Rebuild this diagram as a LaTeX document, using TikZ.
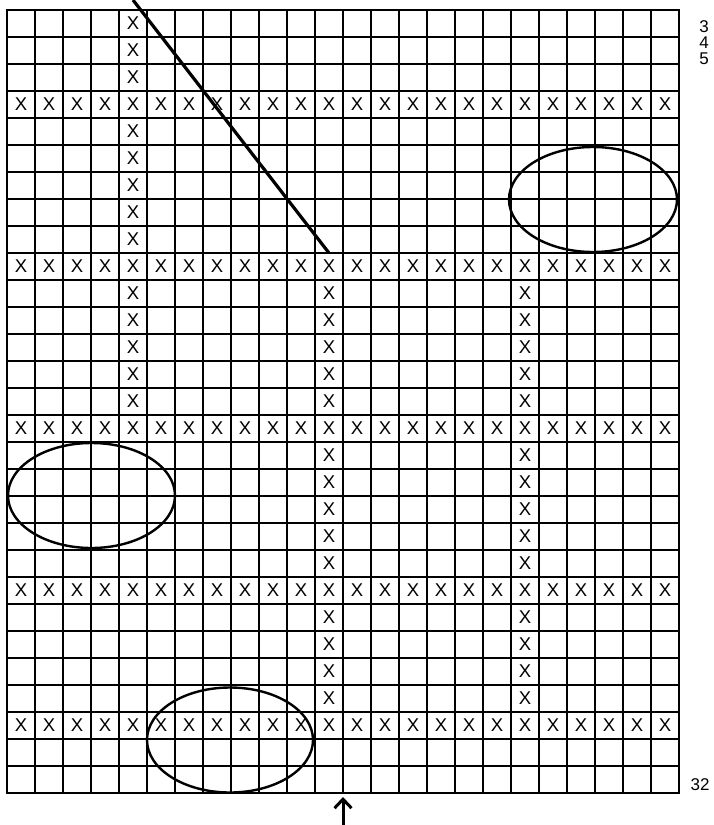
\documentclass[tikz,border=0pt]{standalone}
\usepackage{fontspec}
\setmainfont{Liberation Sans}
\usetikzlibrary{arrows.meta}
\begin{document}
\begin{tikzpicture}[x=1pt,y=-1pt,
  gridline/.style={line width=2.7pt,line cap=rect},
  xmark/.style={inner sep=0pt,font=\fontsize{18.5}{18.5}\selectfont},
  rowlabel/.style={inner sep=0pt,font=\fontsize{17}{17}\selectfont},
  loop/.style={line width=2.4pt},
  diag/.style={line width=3.2pt},
  pointer/.style={line width=3pt,-{Straight Barb[length=9pt,width=17pt,line width=3pt]}}]
\useasboundingbox (0,0) rectangle (714,825);
\fill[white] (0,0) rectangle (714,825);
% grid
\foreach \i in {0,...,24} \draw[gridline] ({7+28*\i},10) -- ({7+28*\i},793);
\foreach \j in {0,...,29} \draw[gridline] (7,{10+27*\j}) -- (679,{10+27*\j});
% full X rows
\foreach \r in {4,10,16,22,27}
  \foreach \c in {1,...,24}
    \node[xmark] (x-\c-\r) at ({7+28*(\c-0.5)},{10+27*(\r-0.5)}) {X};
% column 5
\foreach \r in {1,2,3,5,6,7,8,9,11,12,13,14,15}
  \node[xmark] (x-5-\r) at ({7+28*4.5},{10+27*(\r-0.5)}) {X};
% columns 12 and 19
\foreach \c in {12,19}
  \foreach \r in {11,12,13,14,15,17,18,19,20,21,23,24,25,26}
    \node[xmark] (x-\c-\r) at ({7+28*(\c-0.5)},{10+27*(\r-0.5)}) {X};
% diagonal line
\coordinate (dstart) at (133,0);
\coordinate (dend) at (329,253);
\draw[diag] (dstart) -- (dend);
% ellipses
\draw[loop] (593,199.5) ellipse [x radius=84,y radius=52.5];
\draw[loop] (91.5,495.5) ellipse [x radius=83.5,y radius=52.5];
\draw[loop] (230,740) ellipse [x radius=83,y radius=52.5];
% labels
\node[rowlabel] (lab3) at (704,27) {3};
\node[rowlabel] (lab4) at (704,43) {4};
\node[rowlabel] (lab5) at (704,59) {5};
\node[rowlabel] (lab32) at (700,785) {32};
% arrow
\coordinate (abot) at (343,826);
\coordinate (atop) at (343,797);
\draw[pointer] (abot) -- (atop);
\end{tikzpicture}
\end{document}
